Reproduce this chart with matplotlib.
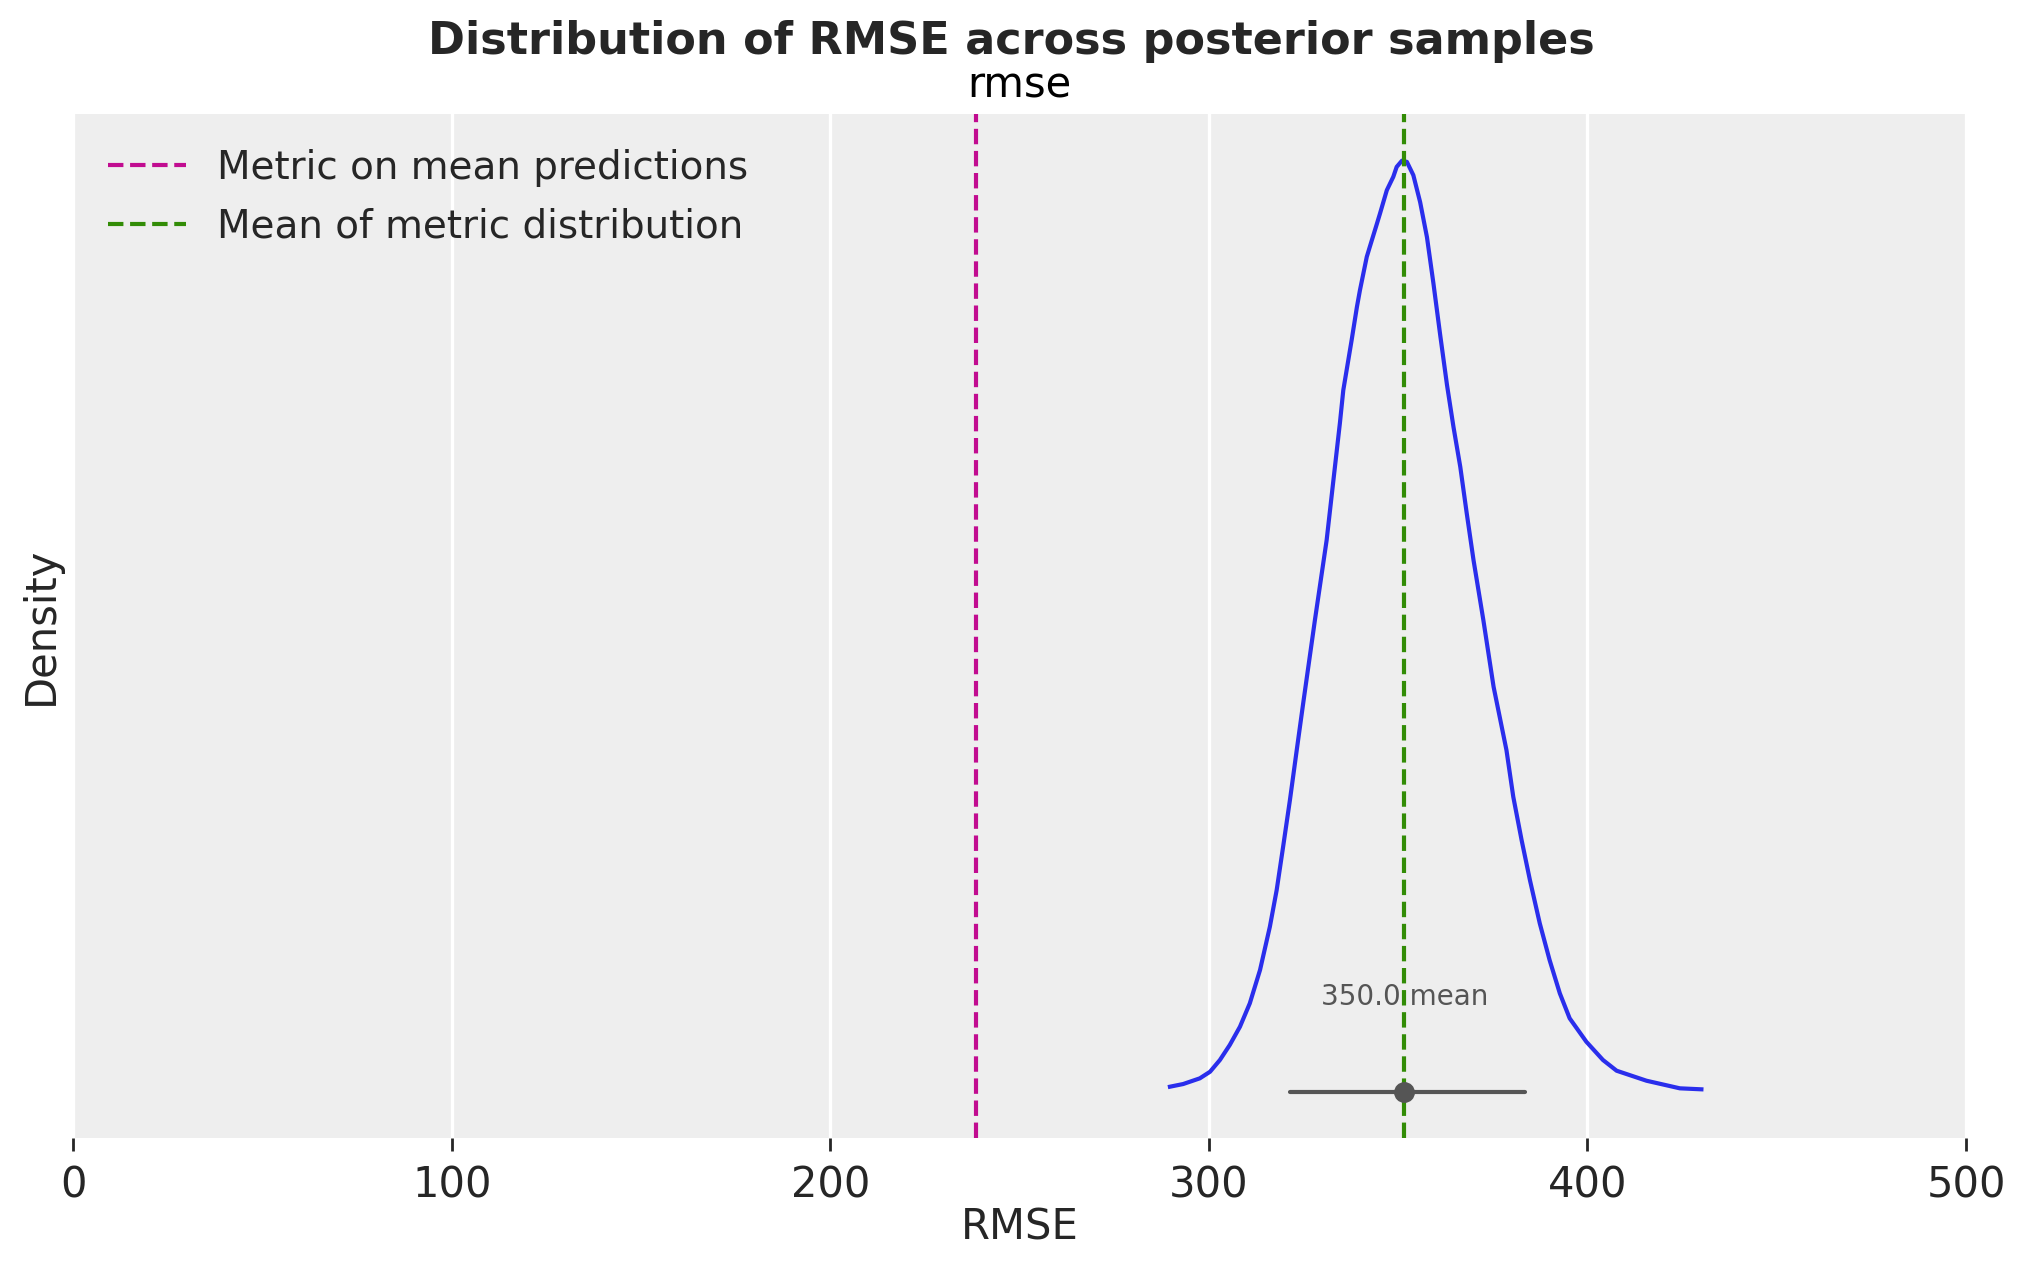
import matplotlib
matplotlib.use("Agg")
import matplotlib.pyplot as plt
import numpy as np

# ---- data ----
kde_x = [289.7, 293.2, 297.6, 300.3, 302.9, 305.5, 308.2, 310.8, 313.5, 316.1,
         317.9, 319.6, 321.4, 323.2, 324.9, 328.0, 331.1, 332.8, 334.6, 335.5,
         337.7, 339.1, 339.9, 341.7, 342.5, 344.4, 345.2, 347.0, 348.7, 349.6,
         351.0, 352.3, 354.0, 355.8, 357.6, 359.3, 361.1, 362.9, 364.6, 366.4,
         368.1, 369.9, 372.5, 375.2, 378.6, 380.4, 382.6, 384.8, 387.4, 390.0,
         392.7, 395.3, 399.7, 404.1, 407.7, 415.6, 424.4, 430.1]
kde_y = [0.000124, 0.000193, 0.000340, 0.000510, 0.000812, 0.001198, 0.001670, 0.002272,
         0.003131, 0.004246, 0.005192, 0.006307, 0.007511, 0.008799, 0.010002, 0.012148,
         0.014209, 0.015678, 0.017224, 0.018074, 0.019362, 0.020220, 0.020651, 0.021509,
         0.021766, 0.022369, 0.022627, 0.023227, 0.023570, 0.023827, 0.023987, 0.023956,
         0.023614, 0.022918, 0.022016, 0.020831, 0.019491, 0.018203, 0.017129, 0.016098,
         0.014905, 0.013694, 0.012148, 0.010430, 0.008799, 0.007596, 0.006480, 0.005449,
         0.004334, 0.003388, 0.002530, 0.001886, 0.001283, 0.000812, 0.000536, 0.000278,
         0.0000824, 0.0000567]

metric_on_mean = 238.5
metric_mean = 351.6
hdi_low, hdi_high = 321.5, 383.5
point_label = "350.0 mean"
x_ticks = [0, 100, 200, 300, 400, 500]

# ---- style ----
BG = "#eeeeee"
BLUE = "#2a2eec"
MAGENTA = "#c10c90"
GREEN = "#328c06"
GRAY = "#555555"
TXT = "#262626"

plt.rcParams["font.family"] = ["DejaVu Sans"]

fig = plt.figure(figsize=(2023 / 200, 1267 / 200), dpi=200)
ax = fig.add_axes([73.3 / 2023, 1 - 1137.7 / 1267, (1966 - 73.3) / 2023, (1137.7 - 114) / 1267])
ax.set_facecolor(BG)
for s in ax.spines.values():
    s.set_visible(False)
ax.grid(True, axis="x", color="white", lw=1.2)
ax.set_axisbelow(True)

ax.plot(kde_x, kde_y, color=BLUE, lw=1.5, zorder=3, solid_joinstyle="round")
ax.plot([hdi_low, hdi_high], [0, 0], color=GRAY, lw=1.5, solid_capstyle="round", zorder=4)
ax.plot([metric_mean], [0], "o", color=GRAY, ms=6.5, zorder=5)
ax.text(metric_mean, 0.00243, point_label, ha="center", va="center", fontsize=10, color=GRAY, zorder=6)

ax.axvline(metric_on_mean, color=MAGENTA, ls="--", lw=1.5, label="Metric on mean predictions", zorder=4)
ax.axvline(metric_mean, color=GREEN, ls="--", lw=1.5, label="Mean of metric distribution", zorder=4)

ax.set_xlim(0, 500)
ax.set_ylim(-0.00119, 0.02519)
ax.set_xticks(x_ticks)
ax.set_yticks([])
ax.tick_params(axis="x", labelsize=15, colors=TXT, length=4.5, width=1.0, pad=5)
ax.set_xlabel("RMSE", fontsize=15, color=TXT, labelpad=0)
ax.set_ylabel("Density", fontsize=15, color=TXT, labelpad=4)
ax.set_title("rmse", fontsize=15, color="black", pad=6)

leg = ax.legend(loc="upper left", frameon=False, fontsize=14, handlelength=2.0,
                borderaxespad=0.5, labelspacing=0.53)
for t in leg.get_texts():
    t.set_color(TXT)

fig.suptitle("Distribution of RMSE across posterior samples", fontsize=16, fontweight="bold",
             color=TXT, y=1 - 41.6 / 1267, va="center")

fig.savefig("out.png", dpi=200, facecolor="white")
